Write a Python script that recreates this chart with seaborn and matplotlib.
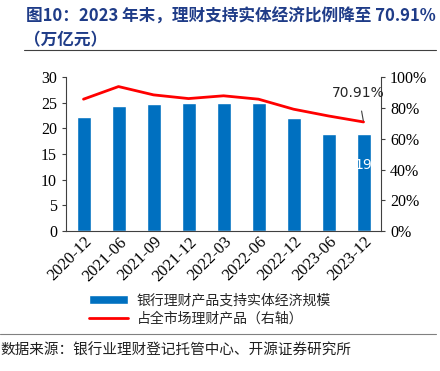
import numpy as np
import pandas as pd
import matplotlib
matplotlib.use("Agg")
import matplotlib.pyplot as plt
import seaborn as sns
from matplotlib.ticker import PercentFormatter, FixedLocator

dates = ["2020-12", "2021-06", "2021-09", "2021-12", "2022-03",
         "2022-06", "2022-12", "2023-06", "2023-12"]
scale = [22.2, 24.3, 24.7, 25.0, 25.0, 25.0, 22.0, 19.0, 19.0]      # 万亿元
share = [85.7, 93.9, 88.5, 86.1, 87.9, 85.7, 79.2, 74.8, 70.91]    # %

bar_name = "银行理财产品支持实体经济规模"
line_name = "占全市场理财产品（右轴）"

sns.set_style("white")
cjk = ["Noto Sans CJK SC", "DejaVu Sans"]
serif = ["Liberation Serif", "DejaVu Serif"]
plt.rcParams["font.family"] = cjk

df = pd.DataFrame({"date": dates, "scale": scale, "share": share})

fig = plt.figure(figsize=(4.4, 3.71), dpi=100)
ax = fig.add_axes([0.15, 0.377, 0.716, 0.415])
sns.barplot(data=df, x="date", y="scale", color="#0070C0", width=0.4,
            saturation=1, ax=ax, label=bar_name)
ax2 = ax.twinx()
sns.lineplot(data=df, x="date", y="share", color="#FF0000", linewidth=2,
             ax=ax2, label=line_name)

ax.set_ylim(0, 30)
ax.set_yticks(range(0, 31, 5))
ax2.set_ylim(0, 100)
ax2.set_yticks(range(0, 101, 20))
ax2.yaxis.set_major_formatter(PercentFormatter(decimals=0))
ax.set_xlim(-0.5, len(dates) - 0.5)
ax.set_xlabel("")
ax.set_ylabel("")
ax2.set_ylabel("")

for a in (ax, ax2):
    a.spines["top"].set_visible(False)
    for s in ("left", "right", "bottom"):
        a.spines[s].set_color("#404040")
        a.spines[s].set_linewidth(0.8)
ax.spines["right"].set_visible(False)
ax2.spines["left"].set_visible(False)
ax2.spines["bottom"].set_visible(False)

ax.tick_params(axis="y", direction="out", length=3, labelsize=11.5, colors="#404040")
ax2.tick_params(axis="y", direction="out", length=3, labelsize=11.5, colors="#404040")
ax.tick_params(axis="x", length=0, labelsize=12, pad=2)
ax.xaxis.set_minor_locator(FixedLocator(np.arange(-0.5, len(dates), 1)))
ax.tick_params(axis="x", which="minor", length=3, direction="out", color="#404040")
for lab in ax.get_xticklabels():
    lab.set_rotation(45)
    lab.set_ha("right")
    lab.set_rotation_mode("anchor")
for lab in ax.get_xticklabels() + ax.get_yticklabels() + ax2.get_yticklabels():
    lab.set_fontfamily(serif)
    lab.set_color("black")

# labels
ax.text(len(dates) - 1, 12.8, f"{scale[-1]:.0f}", color="white", ha="center",
        va="center", fontsize=10, family=["DejaVu Sans"])
ax2.annotate(f"{share[-1]:.2f}%", xy=(len(dates) - 1, share[-1]),
             xytext=(len(dates) - 1.15, 90), ha="center", va="center",
             fontsize=10, family=["DejaVu Sans"],
             arrowprops=dict(arrowstyle="-", color="#404040", lw=0.8,
                             shrinkA=6, shrinkB=1))

# legend
h1, l1 = ax.get_legend_handles_labels()
h2, l2 = ax2.get_legend_handles_labels()
if ax2.get_legend():
    ax2.get_legend().remove()
if ax.get_legend():
    ax.get_legend().remove()
fig.legend(h1 + h2, l1 + l2, loc="upper left", bbox_to_anchor=(0.19, 0.225),
           frameon=False, fontsize=10, handlelength=2.8, handleheight=0.6,
           handletextpad=0.6, labelspacing=0.3, borderaxespad=0)

# title and source
title_color = "#1F3C88"
fig.text(0.06, 0.955, "图10：2023 年末，理财支持实体经济比例降至 70.91%",
         fontsize=12, fontweight="bold", color=title_color, va="center",
         family=cjk)
fig.text(0.055, 0.89, "（万亿元）", fontsize=12, fontweight="bold",
         color=title_color, va="center", family=cjk)
fig.add_artist(plt.Line2D([0.055, 0.99], [0.865, 0.865], color="#404040",
                          lw=0.8, transform=fig.transFigure))
fig.add_artist(plt.Line2D([0.0, 0.99], [0.1, 0.1], color="#808080",
                          lw=0.8, transform=fig.transFigure))
fig.text(0.0, 0.055, "数据来源：银行业理财登记托管中心、开源证券研究所",
         fontsize=10.5, color="#202020", va="center", family=cjk)

plt.savefig("out.png", dpi=100)
